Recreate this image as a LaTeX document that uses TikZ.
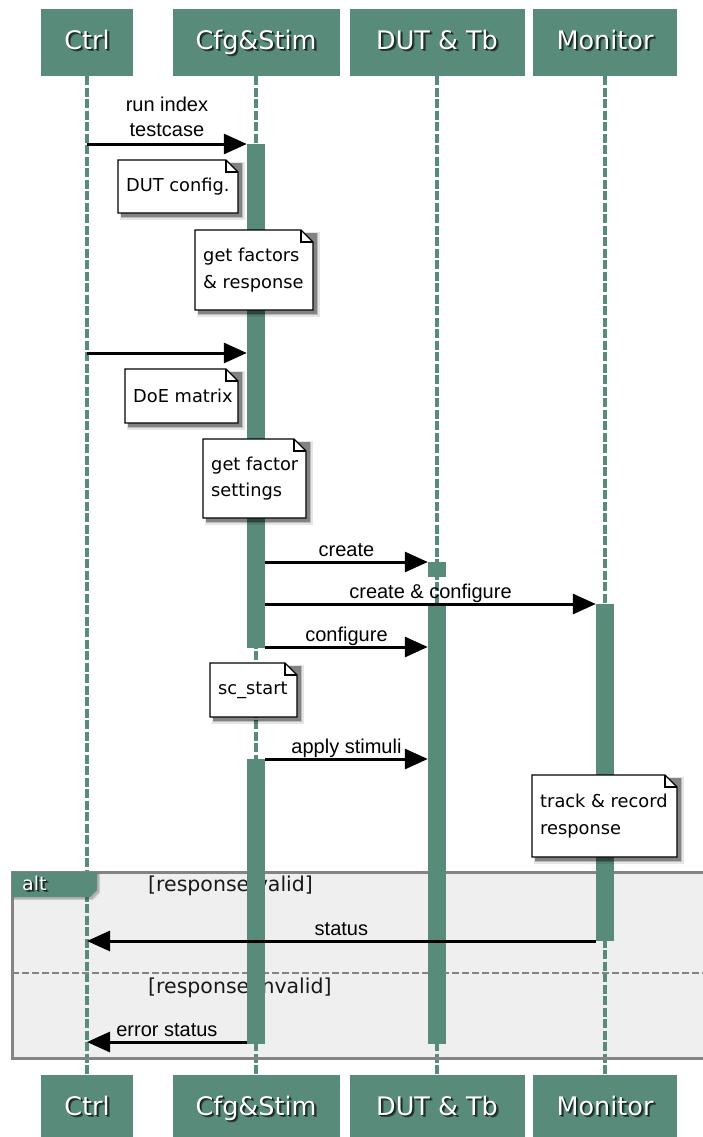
\documentclass[tikz,border=0pt]{standalone}
\usepackage{fontspec}
\setmainfont{Liberation Sans}
\newfontfamily\vera{DejaVu Sans}
\usetikzlibrary{arrows.meta}

\definecolor{sage}{RGB}{88,139,121}
\definecolor{framegray}{RGB}{132,132,132}
\definecolor{framefill}{RGB}{239,239,239}

% white lettering with a soft dark drop shadow
\newcommand\embossed[1]{%
  \rlap{\hspace{2.4pt}\raisebox{-2.4pt}{\color{sage!50!black}#1}}%
  \rlap{\hspace{1.3pt}\raisebox{-1.3pt}{\color{sage!25!black}#1}}#1}

% note with folded corner: name, x1, y1, x2, y2, text
\newcommand\notebox[6]{%
  \fill[black,opacity=.10] (#2+2,#3+2) rectangle (#4+7,#5+7);
  \fill[black,opacity=.18] (#2+3,#3+3) rectangle (#4+5,#5+5);
  \fill[black,opacity=.30] (#2+3,#3+3) rectangle (#4+3.5,#5+3.5);
  \filldraw[noteedge,fill=white] (#2,#3) -- (#4-12,#3) -- (#4,#3+12) -- (#4,#5) -- (#2,#5) -- cycle;
  \draw[noteedge] (#4-12,#3) -- (#4-12,#3+12) -- (#4,#3+12);
  \node[notetext] (#1) at (#2+8,{(#3+#5)/2}) {#6};
}

\tikzset{
  participant/.style={fill=sage, text=white, font=\vera\fontsize{25.5}{30}\selectfont,
    minimum height=67pt, inner sep=0, text height=19pt, text depth=5pt},
  lifeline/.style={draw=sage, line width=3.2pt, dash pattern=on 9pt off 2.5pt},
  actbar/.style={fill=sage, minimum width=18pt, inner sep=0, anchor=north},
  msg/.style={draw=black, line width=3pt, -{Triangle[length=23pt,width=20pt]}},
  msglabel/.style={font=\fontsize{20}{25}\selectfont, inner sep=0, text=black},
  noteedge/.style={draw=black, line width=1.2pt},
  notetext/.style={font=\vera\fontsize{17.8}{26.5}\selectfont, align=left, inner sep=0, anchor=west},
  guard/.style={font=\vera\fontsize{20.5}{24}\selectfont, text=black!90, inner sep=0, anchor=west},
  framerule/.style={draw=framegray, line width=3pt},
  framesep/.style={draw=framegray, line width=2.6pt, dash pattern=on 7pt off 3pt}
}

\begin{document}
\begin{tikzpicture}[x=1pt,y=-1pt]
\useasboundingbox (0,0) rectangle (702,1137);

% message levels
\coordinate (m1) at (0,144);
\coordinate (m2) at (0,353);
\coordinate (m3) at (0,562);
\coordinate (m4) at (0,604);
\coordinate (m5) at (0,647);
\coordinate (m6) at (0,759);
\coordinate (m7) at (0,941);
\coordinate (m8) at (0,1042);

% participants, top and bottom
\node[participant, minimum width=92pt]  (ctrlT) at (87,42.5)  {\embossed{Ctrl}};
\node[participant, minimum width=167pt] (cfgT)  at (256,42.5) {\embossed{Cfg\&Stim}};
\node[participant, minimum width=175pt] (dutT)  at (437,42.5) {\embossed{DUT \& Tb}};
\node[participant, minimum width=144pt] (monT)  at (605,42.5) {\embossed{Monitor}};
\node[participant, minimum width=92pt]  (ctrlB) at (87,1108)  {\embossed{Ctrl}};
\node[participant, minimum width=167pt] (cfgB)  at (256,1108) {\embossed{Cfg\&Stim}};
\node[participant, minimum width=175pt] (dutB)  at (437,1108) {\embossed{DUT \& Tb}};
\node[participant, minimum width=144pt] (monB)  at (605,1108) {\embossed{Monitor}};

% alt fragment background and guards
\fill[framefill] (12,872) rectangle (712,1058);
\node[guard] (g1) at (148,886) {[response valid]};
\node[guard] (g2) at (148,988) {[response invalid]};

% lifelines
\draw[lifeline] (ctrlT.south) -- (ctrlB.north);
\draw[lifeline] (cfgT.south)  -- (cfgB.north);
\draw[lifeline] (dutT.south)  -- (dutB.north);
\draw[lifeline] (monT.south)  -- (monB.north);

% alt fragment outline
\draw[framerule] (12,872) rectangle (712,1058);
\draw[framesep] (12,973) -- (712,973);

% activation bars
\node[actbar, minimum height=504pt] (cfgA) at (256,144) {};
\node[actbar, minimum height=285pt] (cfgC) at (256,759) {};
\node[actbar, minimum height=15pt]  (dutA) at (437,562) {};
\node[actbar, minimum height=440pt] (dutC) at (437,604) {};
\node[actbar, minimum height=337pt] (monA) at (605,604) {};

% notes
\notebox{n1}{118}{160}{238}{213}{DUT config.}
\notebox{n2}{195}{230}{313}{310}{get factors\\\& response}
\notebox{n3}{125}{369}{238}{423}{DoE matrix}
\notebox{n4}{203}{439}{306}{518}{get factor\\settings}
\notebox{n5}{210}{663}{297}{717}{sc\_start}
\notebox{n6}{532}{775}{677}{857}{track \& record\\response}

% messages
\draw[msg] (ctrlT |- m1) -- node[msglabel, midway, align=center, anchor=south, yshift=6pt] (l1) {run index\\testcase} (cfgA.west |- m1);
\draw[msg] (ctrlT |- m2) -- (cfgA.west |- m2);
\draw[msg] (cfgA.east |- m3) -- node[msglabel, midway, anchor=base, yshift=6pt] (l3) {create} (dutA.west |- m3);
\draw[msg] (cfgA.east |- m4) -- node[msglabel, midway, anchor=base, yshift=6pt] (l4) {create \& configure} (monA.west |- m4);
\draw[msg] (cfgA.east |- m5) -- node[msglabel, midway, anchor=base, yshift=6pt] (l5) {configure} (dutC.west |- m5);
\draw[msg] (cfgC.east |- m6) -- node[msglabel, midway, anchor=base, yshift=6pt] (l6) {apply stimuli} (dutC.west |- m6);
\draw[msg] (monA.west |- m7) -- node[msglabel, midway, anchor=base, yshift=6pt] (l7) {status} (ctrlT |- m7);
\draw[msg] (cfgC.west |- m8) -- node[msglabel, midway, anchor=base, yshift=6pt] (l8) {error status} (ctrlT |- m8);

% alt tab
\fill[black,opacity=.12] (14,874) -- (100,874) -- (100,893) -- (93,900) -- (14,900) -- cycle;
\fill[black,opacity=.15] (13,873) -- (99,873) -- (99,892) -- (92,899) -- (13,899) -- cycle;
\fill[sage] (12,872) -- (97,872) -- (97,890) -- (90,897) -- (12,897) -- cycle;
\node[font=\vera\fontsize{19}{22}\selectfont, text=white, inner sep=0, anchor=west] (alttag) at (22,884.5) {\embossed{alt}};
\end{tikzpicture}
\end{document}
